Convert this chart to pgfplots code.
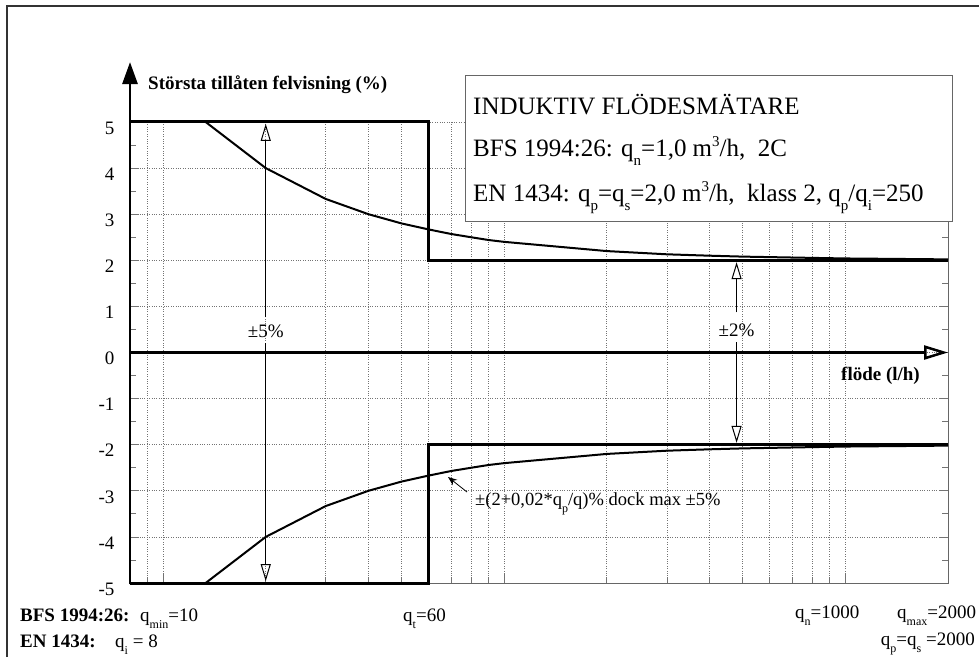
\documentclass[border=0pt]{standalone}
\usepackage{fontspec}
\setmainfont{Liberation Serif}
\usepackage{pgfplots}
\pgfplotsset{compat=1.18}
\usetikzlibrary{arrows.meta}

% lowered subscript: size, text, drop
\newcommand{\sub}[3]{\raisebox{-#3}{\fontsize{#1}{#1}\selectfont #2}}
\newcommand{\sups}[3]{\raisebox{#3}{\fontsize{#1}{#1}\selectfont #2}}

\begin{document}
\begin{tikzpicture}[x=1pt,y=1pt]
\useasboundingbox (0,0) rectangle (979,657);
% outer frame (left and top edges)
\draw[line width=1.3pt, black!80] (7,0) -- (7,651) -- (979,651);

\begin{axis}[
  at={(130pt,74pt)}, anchor=south west,
  scale only axis, width=818pt, height=461pt,
  xmode=log, xmin=8, xmax=2000, ymin=-5, ymax=5,
  axis line style={draw=none},
  clip=false,
  xtick={10,100,1000}, xticklabels={},
  minor xtick={9,20,30,40,50,60,70,80,90,200,300,400,500,600,700,800,900},
  ytick={-5,-4,-3,-2,-1,0,1,2,3,4,5},
  yticklabels={-5,-4,-3,-2,-1,0,1,2,3,4,5},
  minor ytick={-4.5,-3.5,-2.5,-1.5,-0.5,0.5,1.5,2.5,3.5,4.5},
  xtick pos=left,
  tick align=inside,
  major tick length=9pt, minor tick length=6pt,
  every tick/.style={black!55, line width=0.8pt},
  xmajorgrids, xminorgrids, ymajorgrids,
  major grid style={dotted, black!55, line width=0.8pt},
  minor grid style={dotted, black!55, line width=0.8pt},
  yticklabel style={font=\fontsize{19}{19}\selectfont, xshift=-12pt, yshift=-6pt},
]
% axis box lines (bottom and right)
\draw[black!60, line width=1pt] (axis cs:8,-5) -- (axis cs:2000,-5) -- (axis cs:2000,5);

% limits
\addplot[black, line width=3pt, mark=none] coordinates {(8,5) (60,5) (60,2) (2000,2)};
\addplot[black, line width=3pt, mark=none] coordinates {(8,-5) (60,-5) (60,-2) (2000,-2)};

% curves +-(2+0,02*qp/q), max 5
\addplot[black, line width=2pt, mark=none] coordinates {
 (13.33,5) (20,4) (30,3.33) (40,3) (50,2.8) (60,2.67) (70,2.57) (80,2.5) (90,2.44)
 (100,2.4) (200,2.2) (300,2.13) (400,2.1) (500,2.08) (700,2.06) (1000,2.04) (2000,2.02)};
\addplot[black, line width=2pt, mark=none] coordinates {
 (13.33,-5) (20,-4) (30,-3.33) (40,-3) (50,-2.8) (60,-2.67) (70,-2.57) (80,-2.5) (90,-2.44)
 (100,-2.4) (200,-2.2) (300,-2.13) (400,-2.1) (500,-2.08) (700,-2.06) (1000,-2.04) (2000,-2.02)};

% axes with arrows
\draw[line width=2.8pt, -{Triangle[length=22pt,width=15pt]}] (axis cs:8,-5.03) -- (axis cs:8,6.3);
\draw[line width=2.5pt, -{Triangle[open,length=24pt,width=14pt]}] (axis cs:8,0) -- (axis cs:2000,0);

% +-5% and +-2% arrows
\draw[line width=1pt, -{Triangle[open,length=17pt,width=10pt]}] (axis cs:20,0.76) -- (axis cs:20,4.96);
\draw[line width=1pt, -{Triangle[open,length=17pt,width=10pt]}] (axis cs:20,0.2) -- (axis cs:20,-4.96);
\node[font=\fontsize{19}{19}\selectfont] at (axis cs:20,0.46) {±5\%};
\draw[line width=1pt, -{Triangle[open,length=17pt,width=10pt]}] (axis cs:480,0.87) -- (axis cs:480,1.96);
\draw[line width=1pt, -{Triangle[open,length=17pt,width=10pt]}] (axis cs:480,0.22) -- (axis cs:480,-1.96);
\node[font=\fontsize{19}{19}\selectfont] at (axis cs:480,0.48) {±2\%};
\end{axis}

% info box
\draw[black!60, line width=1pt, fill=white] (465,581) rectangle (952,435);
\begin{scope}[every node/.style={anchor=base west, inner sep=0pt, font=\fontsize{25}{30}\selectfont}]
\node at (473,542) {INDUKTIV FLÖDESMÄTARE};
\node at (473,500) {BFS 1994:26: q\sub{15}{n}{9pt}=1,0 m\sups{15}{3}{10pt}/h,\ \ 2C};
\node at (473,455) {EN 1434: q\sub{15}{p}{9pt}=q\sub{15}{s}{9pt}=2,0 m\sups{15}{3}{10pt}/h,\ \ klass 2, q\sub{15}{p}{9pt}/q\sub{15}{i}{9pt}=250};
\end{scope}

% axis titles
\node[anchor=base west, inner sep=0pt, font=\bfseries\fontsize{19}{19}\selectfont] at (148,567) {Största tillåten felvisning (\%)};
\node[anchor=base east, inner sep=0pt, font=\bfseries\fontsize{19}{19}\selectfont] at (920,277) {flöde (l/h)};

% formula annotation
\draw[line width=0.8pt, -{Stealth[length=9pt,width=7pt]}] (467,165) -- (448,180);
\node[anchor=base west, inner sep=0pt, font=\fontsize{18.5}{18.5}\selectfont] at (475,152) {±(2+0,02*q\sub{12}{p}{7pt}/q)\% dock max ±5\%};

% bottom labels
\begin{scope}[every node/.style={anchor=base west, inner sep=0pt, font=\fontsize{19}{19}\selectfont}]
\node[font=\bfseries\fontsize{19}{19}\selectfont] at (20,36) {BFS 1994:26:};
\node at (140,36) {q\sub{12}{min}{7pt}=10};
\node at (403,36) {q\sub{12}{t}{7pt}=60};
\node at (795,39) {q\sub{12}{n}{7pt}=1000};
\node at (897,39) {q\sub{12}{max}{7pt}=2000};
\node[font=\bfseries\fontsize{19}{19}\selectfont] at (20,10) {EN 1434:};
\node at (115,10) {q\sub{12}{i}{7pt}\ = 8};
\node[anchor=base east] at (975,12) {q\sub{12}{p}{7pt}=q\sub{12}{s}{7pt}\ =2000};
\end{scope}
\end{tikzpicture}
\end{document}
